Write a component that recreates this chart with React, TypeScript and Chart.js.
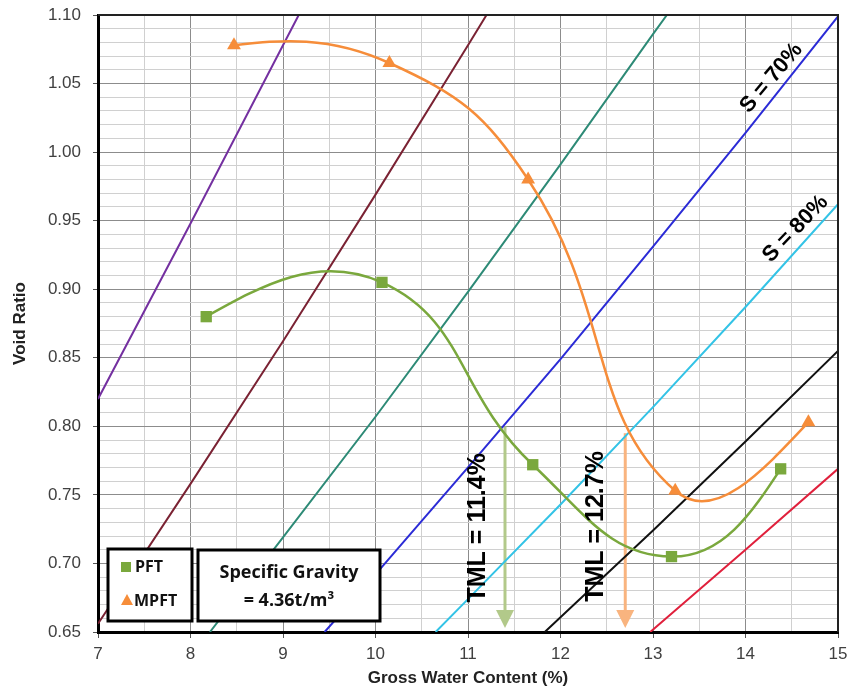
import React, { useEffect, useRef } from "react";
import { Chart, registerables } from "chart.js";

Chart.register(...registerables);

// ---- Data ----
const xTickValues = [7, 8, 9, 10, 11, 12, 13, 14, 15];
const yTickValues = [0.65, 0.7, 0.75, 0.8, 0.85, 0.9, 0.95, 1.0, 1.05, 1.1];

const pftX = [8.17, 10.07, 11.7, 13.2, 14.38];
const pftY = [0.88, 0.905, 0.772, 0.705, 0.769];

const mpftX = [8.47, 10.15, 11.65, 13.24, 14.68];
const mpftY = [1.078, 1.065, 0.98, 0.753, 0.803];

// saturation lines (S = 40% ... 100%)
const s40X = [7, 8, 9, 9.17];
const s40Y = [0.82, 0.948, 1.078, 1.1];
const s50X = [7, 8, 9, 10, 11, 11.2];
const s50Y = [0.656, 0.758, 0.862, 0.969, 1.078, 1.1];
const s60X = [8.21, 9, 10, 11, 12, 13, 13.15];
const s60Y = [0.65, 0.719, 0.807, 0.898, 0.991, 1.086, 1.1];
const s70X = [9.45, 10, 11, 12, 13, 14, 15];
const s70Y = [0.65, 0.692, 0.77, 0.849, 0.931, 1.014, 1.099];
const s80X = [10.65, 11, 12, 13, 14, 15];
const s80Y = [0.65, 0.674, 0.743, 0.814, 0.887, 0.962];
const s90X = [11.83, 13, 14, 15];
const s90Y = [0.65, 0.724, 0.789, 0.855];
const s100X = [12.97, 14, 15];
const s100Y = [0.65, 0.71, 0.769];

const tmlValues = [11.4, 12.7];
const tmlTopValues = [0.8, 0.795];
const tmlLabels = ["TML = 11.4%", "TML = 12.7%"];
const satLabels = ["S = 70%", "S = 80%"];

// ---- Styles ----
const FONT = "'Liberation Sans', Arial, sans-serif";
const LEGEND_FONT = "'Open Sans', 'Noto Sans', sans-serif";
const GREEN = "#7aa83d";
const ORANGE = "#f68d3a";
const GREEN_ARROW = "#b2c98a";
const ORANGE_ARROW = "#f9b47f";
const CURVE_TENSION = 0.45;

const satStyles = [
  { x: s40X, y: s40Y, color: "#7430a0" },
  { x: s50X, y: s50Y, color: "#7a2233" },
  { x: s60X, y: s60Y, color: "#2d8a76" },
  { x: s70X, y: s70Y, color: "#2b2bd6" },
  { x: s80X, y: s80Y, color: "#33c3e6" },
  { x: s90X, y: s90Y, color: "#111111" },
  { x: s100X, y: s100Y, color: "#e0203c" },
];

const satLabelPos = [
  { x: 14.28, y: 1.054, angle: -50 },
  { x: 14.54, y: 0.944, angle: -46 },
];
const tmlLabelPos = [
  { x: 11.11, y: 0.726 },
  { x: 12.39, y: 0.727 },
];

const zip = (xs: number[], ys: number[]) => xs.map((x, i) => ({ x, y: ys[i] }));

const isMajorX = (v: number) => xTickValues.some((t) => Math.abs(t - v) < 1e-6);
const isMajorY = (v: number) => yTickValues.some((t) => Math.abs(t - v) < 1e-6);

// Smooth curve (spreadsheet-style): weighted tangents inside, natural ends.
function drawSmooth(ctx: CanvasRenderingContext2D, pts: { x: number; y: number }[]) {
  const n = pts.length;
  if (n < 2) return;
  const prevC: { x: number; y: number }[] = [];
  const nextC: { x: number; y: number }[] = [];
  for (let i = 1; i < n - 1; i++) {
    const a = pts[i - 1], b = pts[i], c = pts[i + 1];
    const d01 = Math.hypot(b.x - a.x, b.y - a.y);
    const d12 = Math.hypot(c.x - b.x, c.y - b.y);
    const fa = d01 / (d01 + d12);
    const fb = d12 / (d01 + d12);
    const dx = c.x - a.x, dy = c.y - a.y;
    prevC[i] = { x: b.x - fa * CURVE_TENSION * dx, y: b.y - fa * CURVE_TENSION * dy };
    nextC[i] = { x: b.x + fb * CURVE_TENSION * dx, y: b.y + fb * CURVE_TENSION * dy };
  }
  if (n === 2) {
    ctx.beginPath();
    ctx.moveTo(pts[0].x, pts[0].y);
    ctx.lineTo(pts[1].x, pts[1].y);
    ctx.stroke();
    return;
  }
  nextC[0] = { x: (pts[0].x + prevC[1].x) / 2, y: (pts[0].y + prevC[1].y) / 2 };
  prevC[n - 1] = { x: (pts[n - 1].x + nextC[n - 2].x) / 2, y: (pts[n - 1].y + nextC[n - 2].y) / 2 };
  ctx.beginPath();
  ctx.moveTo(pts[0].x, pts[0].y);
  for (let i = 0; i < n - 1; i++) {
    ctx.bezierCurveTo(nextC[i].x, nextC[i].y, prevC[i + 1].x, prevC[i + 1].y, pts[i + 1].x, pts[i + 1].y);
  }
  ctx.stroke();
}

const annotPlugin = {
  id: "annot",
  beforeDatasetsDraw(chart: any) {
    const { ctx, chartArea, scales } = chart;
    const xs = scales.x;
    const ys = scales.y;
    const colors = [GREEN_ARROW, ORANGE_ARROW];
    ctx.save();
    tmlValues.forEach((v, i) => {
      const px = xs.getPixelForValue(v);
      const top = ys.getPixelForValue(tmlTopValues[i]);
      const tip = chartArea.bottom - 4;
      ctx.strokeStyle = colors[i];
      ctx.fillStyle = colors[i];
      ctx.lineWidth = 3;
      ctx.beginPath();
      ctx.moveTo(px, top);
      ctx.lineTo(px, tip - 14);
      ctx.stroke();
      ctx.beginPath();
      ctx.moveTo(px - 9, tip - 18);
      ctx.lineTo(px + 9, tip - 18);
      ctx.lineTo(px, tip);
      ctx.closePath();
      ctx.fill();
    });
    ctx.restore();
  },
  beforeDatasetDraw(chart: any, args: any) {
    const ds = chart.data.datasets[args.index];
    if (!ds.smoothCurve) return;
    const meta = chart.getDatasetMeta(args.index);
    const pts = meta.data.map((e: any) => ({ x: e.x, y: e.y }));
    const { ctx, chartArea } = chart;
    ctx.save();
    ctx.beginPath();
    ctx.rect(chartArea.left, chartArea.top, chartArea.right - chartArea.left, chartArea.bottom - chartArea.top);
    ctx.clip();
    ctx.strokeStyle = ds.borderColor;
    ctx.lineWidth = ds.curveWidth;
    ctx.lineJoin = "round";
    ctx.lineCap = "round";
    drawSmooth(ctx, pts);
    ctx.restore();
  },
  afterDatasetsDraw(chart: any) {
    const { ctx, chartArea, scales } = chart;
    const xs = scales.x;
    const ys = scales.y;
    ctx.save();
    // frame top / right
    ctx.strokeStyle = "#222";
    ctx.lineWidth = 2;
    ctx.beginPath();
    ctx.moveTo(chartArea.left, chartArea.top);
    ctx.lineTo(chartArea.right, chartArea.top);
    ctx.lineTo(chartArea.right, chartArea.bottom);
    ctx.stroke();

    // TML labels
    ctx.fillStyle = "#000";
    ctx.textAlign = "center";
    ctx.textBaseline = "middle";
    ctx.font = `bold 25px ${FONT}`;
    tmlLabels.forEach((t, i) => {
      const p = tmlLabelPos[i];
      ctx.save();
      ctx.translate(xs.getPixelForValue(p.x), ys.getPixelForValue(p.y));
      ctx.rotate(-Math.PI / 2);
      ctx.fillText(t, 0, 0);
      ctx.restore();
    });

    // saturation labels
    ctx.font = `bold 22px ${FONT}`;
    satLabels.forEach((t, i) => {
      const p = satLabelPos[i];
      ctx.save();
      ctx.translate(xs.getPixelForValue(p.x), ys.getPixelForValue(p.y));
      ctx.rotate((p.angle * Math.PI) / 180);
      ctx.fillText(t, 0, 0);
      ctx.restore();
    });

    // legend box
    ctx.lineWidth = 3;
    ctx.strokeStyle = "#000";
    ctx.fillStyle = "#fff";
    ctx.fillRect(108, 549, 84, 72);
    ctx.strokeRect(108, 549, 84, 72);
    ctx.fillRect(198, 550, 182, 71);
    ctx.strokeRect(198, 550, 182, 71);

    ctx.fillStyle = GREEN;
    ctx.fillRect(121, 562, 10, 10);
    ctx.fillStyle = ORANGE;
    ctx.beginPath();
    ctx.moveTo(127, 594);
    ctx.lineTo(133, 605);
    ctx.lineTo(121, 605);
    ctx.closePath();
    ctx.fill();

    ctx.fillStyle = "#111";
    ctx.textAlign = "left";
    ctx.font = `bold 16px ${LEGEND_FONT}`;
    ctx.fillText("PFT", 135, 567);
    ctx.fillText("MPFT", 134, 601);

    ctx.textAlign = "center";
    ctx.font = `bold 18px ${LEGEND_FONT}`;
    ctx.fillText("Specific Gravity", 289, 573);
    ctx.fillText("= 4.36t/m³", 289, 601);
    ctx.restore();
  },
};

export default function App() {
  const ref = useRef<HTMLCanvasElement>(null);

  useEffect(() => {
    document.body.style.margin = "0";
    const datasets: any[] = [
      {
        label: "PFT",
        data: zip(pftX, pftY),
        borderColor: GREEN,
        backgroundColor: GREEN,
        borderWidth: 0,
        showLine: false,
        smoothCurve: true,
        curveWidth: 2.5,
        pointStyle: "rect",
        pointRadius: 8,
        pointBorderWidth: 0,
      },
      {
        label: "MPFT",
        data: zip(mpftX, mpftY),
        borderColor: ORANGE,
        backgroundColor: ORANGE,
        borderWidth: 0,
        showLine: false,
        smoothCurve: true,
        curveWidth: 2.5,
        pointStyle: "triangle",
        pointRadius: 8,
        pointBorderWidth: 0,
      },
      ...satStyles.map((s, i) => ({
        label: `S${i}`,
        data: zip(s.x, s.y),
        borderColor: s.color,
        backgroundColor: s.color,
        borderWidth: 2,
        pointRadius: 0,
        tension: 0,
        fill: false,
      })),
    ];

    const chart = new Chart(ref.current!, {
      type: "line",
      data: { datasets },
      plugins: [annotPlugin],
      options: {
        responsive: false,
        animation: false,
        devicePixelRatio: 1,
        layout: { padding: { top: 15, right: 21, left: 0, bottom: 0 } },
        plugins: { legend: { display: false }, tooltip: { enabled: false } },
        scales: {
          x: {
            type: "linear",
            min: 7,
            max: 15,
            afterFit: (s: any) => {
              s.height = 63;
              s.paddingLeft = 0;
              s.paddingRight = 0;
            },
            ticks: {
              stepSize: 0.5,
              autoSkip: false,
              maxRotation: 0,
              padding: 6,
              color: "#404040",
              font: { family: FONT, size: 17 },
              callback: (v: any) => (isMajorX(Number(v)) ? String(Math.round(Number(v))) : ""),
            },
            grid: {
              color: (c: any) => (c.tick && isMajorX(c.tick.value) ? "#8c8c8c" : "#d0d0d0"),
              lineWidth: 1,
              tickLength: 6,
              tickColor: (c: any) => (c.tick && isMajorX(c.tick.value) ? "#555" : "rgba(0,0,0,0)"),
            },
            border: { color: "#000", width: 3 },
            title: {
              display: true,
              text: "Gross Water Content (%)",
              color: "#222",
              font: { family: FONT, size: 17, weight: "bold" },
              padding: { top: 0, bottom: 6 },
            },
          },
          y: {
            type: "linear",
            min: 0.65,
            max: 1.1,
            afterFit: (s: any) => {
              s.width = 98;
              s.paddingTop = 0;
              s.paddingBottom = 0;
            },
            ticks: {
              stepSize: 0.01,
              autoSkip: false,
              padding: 12,
              color: "#404040",
              font: { family: FONT, size: 17 },
              callback: (v: any) => (isMajorY(Number(v)) ? Number(v).toFixed(2) : ""),
            },
            grid: {
              color: (c: any) => (c.tick && isMajorY(c.tick.value) ? "#8c8c8c" : "#d0d0d0"),
              lineWidth: 1,
              tickLength: 5,
              tickColor: (c: any) => (c.tick && isMajorY(c.tick.value) ? "#555" : "rgba(0,0,0,0)"),
            },
            border: { color: "#000", width: 3 },
            title: {
              display: true,
              text: "Void Ratio",
              color: "#222",
              font: { family: FONT, size: 17, weight: "bold" },
              padding: { top: 10, bottom: 0 },
            },
          },
        },
      } as any,
    });
    return () => chart.destroy();
  }, []);

  return (
    <div style={{ position: "absolute", left: 0, top: 0, width: 859, height: 695, background: "#fff" }}>
      <canvas ref={ref} width={859} height={695} style={{ width: 859, height: 695, display: "block" }} />
    </div>
  );
}
